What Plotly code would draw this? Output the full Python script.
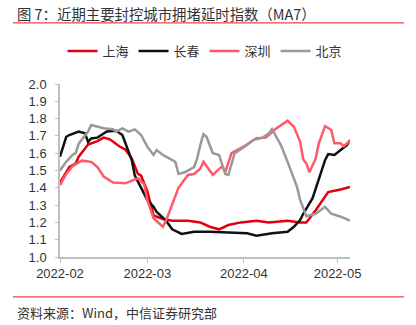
import plotly.graph_objects as go

# ---- data ----
sh_dates = ["2022-02-01","2022-02-04","2022-02-06","2022-02-07","2022-02-10","2022-02-13","2022-02-15","2022-02-17",
            "2022-02-20","2022-02-22","2022-02-24","2022-02-26","2022-02-27","2022-03-01","2022-03-03","2022-03-06",
            "2022-03-09","2022-03-14","2022-03-18","2022-03-21","2022-03-24","2022-03-27","2022-03-31","2022-04-05",
            "2022-04-09","2022-04-15","2022-04-19","2022-04-21","2022-04-24","2022-04-28","2022-05-02","2022-05-05"]
sh_vals = [1.43,1.52,1.54,1.58,1.65,1.67,1.69,1.68,
           1.64,1.62,1.57,1.48,1.47,1.38,1.24,1.22,
           1.21,1.21,1.20,1.175,1.16,1.185,1.20,1.21,
           1.20,1.21,1.20,1.20,1.27,1.375,1.39,1.405]

cc_dates = ["2022-02-01","2022-02-03","2022-02-04","2022-02-07","2022-02-09","2022-02-10","2022-02-11","2022-02-13",
            "2022-02-16","2022-02-19","2022-02-21","2022-02-22","2022-02-24","2022-02-25","2022-02-28","2022-03-01",
            "2022-03-03","2022-03-04","2022-03-07","2022-03-09","2022-03-12","2022-03-16","2022-03-21","2022-03-28",
            "2022-04-02","2022-04-05","2022-04-10","2022-04-15","2022-04-17","2022-04-19","2022-04-20","2022-04-23",
            "2022-04-25","2022-04-27","2022-04-28","2022-04-30","2022-05-02","2022-05-04","2022-05-05"]
cc_vals = [1.58,1.695,1.705,1.725,1.715,1.665,1.685,1.69,
           1.725,1.73,1.705,1.66,1.56,1.47,1.37,1.33,
           1.29,1.26,1.21,1.16,1.133,1.146,1.146,1.142,
           1.137,1.123,1.137,1.146,1.175,1.214,1.25,1.34,
           1.45,1.56,1.595,1.59,1.618,1.647,1.676]

sz_dates = ["2022-02-01","2022-02-03","2022-02-05","2022-02-08","2022-02-11","2022-02-13","2022-02-15","2022-02-18",
            "2022-02-22","2022-02-26","2022-02-28","2022-03-01","2022-03-03","2022-03-06","2022-03-07","2022-03-09",
            "2022-03-11","2022-03-14","2022-03-16","2022-03-18","2022-03-19","2022-03-22","2022-03-25","2022-03-26",
            "2022-03-28","2022-04-01","2022-04-05","2022-04-08","2022-04-11","2022-04-15","2022-04-17","2022-04-19",
            "2022-04-20","2022-04-21","2022-04-22","2022-04-24","2022-04-25","2022-04-27","2022-04-29","2022-04-30",
            "2022-05-02","2022-05-03","2022-05-05"]
sz_vals = [1.416,1.48,1.525,1.557,1.55,1.52,1.465,1.43,
           1.426,1.455,1.42,1.33,1.224,1.175,1.21,1.31,
           1.40,1.474,1.48,1.51,1.55,1.475,1.525,1.49,
           1.60,1.64,1.686,1.69,1.738,1.788,1.753,1.667,
           1.565,1.54,1.49,1.57,1.657,1.757,1.734,1.657,
           1.657,1.64,1.672]

bj_dates = ["2022-02-01","2022-02-03","2022-02-05","2022-02-06","2022-02-07","2022-02-10","2022-02-11","2022-02-13",
            "2022-02-15","2022-02-18","2022-02-19","2022-02-21","2022-02-23","2022-02-25","2022-02-27","2022-03-01",
            "2022-03-03","2022-03-04","2022-03-06","2022-03-08","2022-03-10","2022-03-11","2022-03-13","2022-03-16",
            "2022-03-17","2022-03-18","2022-03-19","2022-03-20","2022-03-22","2022-03-24","2022-03-26","2022-03-27",
            "2022-03-29","2022-04-01","2022-04-04","2022-04-07","2022-04-09","2022-04-10","2022-04-11","2022-04-13",
            "2022-04-15","2022-04-16","2022-04-18","2022-04-19","2022-04-21","2022-04-24","2022-04-27","2022-04-29",
            "2022-05-02","2022-05-05"]
bj_vals = [1.50,1.55,1.59,1.60,1.655,1.725,1.763,1.753,
           1.744,1.738,1.725,1.744,1.725,1.738,1.705,1.638,
           1.59,1.618,1.59,1.57,1.55,1.48,1.49,1.52,
           1.57,1.647,1.71,1.695,1.60,1.59,1.48,1.474,
           1.60,1.634,1.676,1.69,1.715,1.74,1.705,1.64,
           1.55,1.50,1.406,1.33,1.236,1.25,1.29,1.25,
           1.233,1.21]

series_names = ["上海", "长春", "深圳", "北京"]
month_ticks = ["2022-02-01", "2022-03-01", "2022-04-01", "2022-05-01"]
month_labels = ["2022-02", "2022-03", "2022-04", "2022-05"]
y_ticks = [1.0, 1.1, 1.2, 1.3, 1.4, 1.5, 1.6, 1.7, 1.8, 1.9, 2.0]

title_text = "图 7：近期主要封控城市拥堵延时指数（MA7）"
source_text = "资料来源：Wind，中信证券研究部"

colors = ["#E0000F", "#111111", "#FF5A6A", "#999999"]
FONT = "Liberation Sans, Arial, Noto Sans CJK SC, sans-serif"
CJK = "Noto Sans CJK SC, sans-serif"

fig = go.Figure()
for name, xs, ys, c in zip(series_names,
                           [sh_dates, cc_dates, sz_dates, bj_dates],
                           [sh_vals, cc_vals, sz_vals, bj_vals], colors):
    fig.add_trace(go.Scatter(x=xs, y=ys, mode="lines", name=name,
                             line=dict(color=c, width=2.5)))

fig.update_layout(
    width=416, height=325,
    margin=dict(l=60, r=66, t=84, b=68),
    paper_bgcolor="white", plot_bgcolor="white",
    font=dict(family=FONT, color="#333333", size=12),
    showlegend=True,
    legend=dict(orientation="h", x=0.5, xanchor="center", y=1.19, yanchor="middle",
                font=dict(size=13, family=CJK, color="#333333"),
                itemwidth=30, tracegroupgap=0, bgcolor="rgba(0,0,0,0)"),
    xaxis=dict(type="date", range=["2022-02-01", "2022-05-05"],
               tickmode="array", tickvals=month_ticks, ticktext=month_labels,
               showgrid=False, zeroline=False, showline=True, linecolor="#BFBFBF", linewidth=1.5,
               ticks="outside", ticklen=4, tickcolor="#BFBFBF",
               tickfont=dict(size=13, color="#333333")),
    yaxis=dict(range=[1.0, 2.0], tickmode="array", tickvals=y_ticks,
               ticktext=[f"{v:.1f}" for v in y_ticks],
               showgrid=False, zeroline=False, showline=True, linecolor="#BFBFBF", linewidth=1.5,
               ticks="outside", ticklen=3, tickcolor="#BFBFBF", ticklabelstandoff=6,
               tickfont=dict(size=13, color="#333333")),
)

# title and footer
fig.add_annotation(text=title_text, xref="paper", yref="paper", x=-0.155, y=1.41,
                   xanchor="left", yanchor="middle", showarrow=False,
                   font=dict(size=14.4, family=CJK, color="#333333"))
fig.add_shape(type="line", xref="paper", yref="paper", x0=-0.162, x1=1.186, y0=1.353, y1=1.353,
              line=dict(color="#E8474F", width=1.2))
fig.add_shape(type="line", xref="paper", yref="paper", x0=-0.162, x1=1.186, y0=-0.231, y1=-0.231,
              line=dict(color="#E8474F", width=1.2))
fig.add_annotation(text=source_text, xref="paper", yref="paper", x=-0.155, y=-0.318,
                   xanchor="left", yanchor="middle", showarrow=False,
                   font=dict(size=13, family=CJK, color="#333333"))

fig.write_html("out.html")
